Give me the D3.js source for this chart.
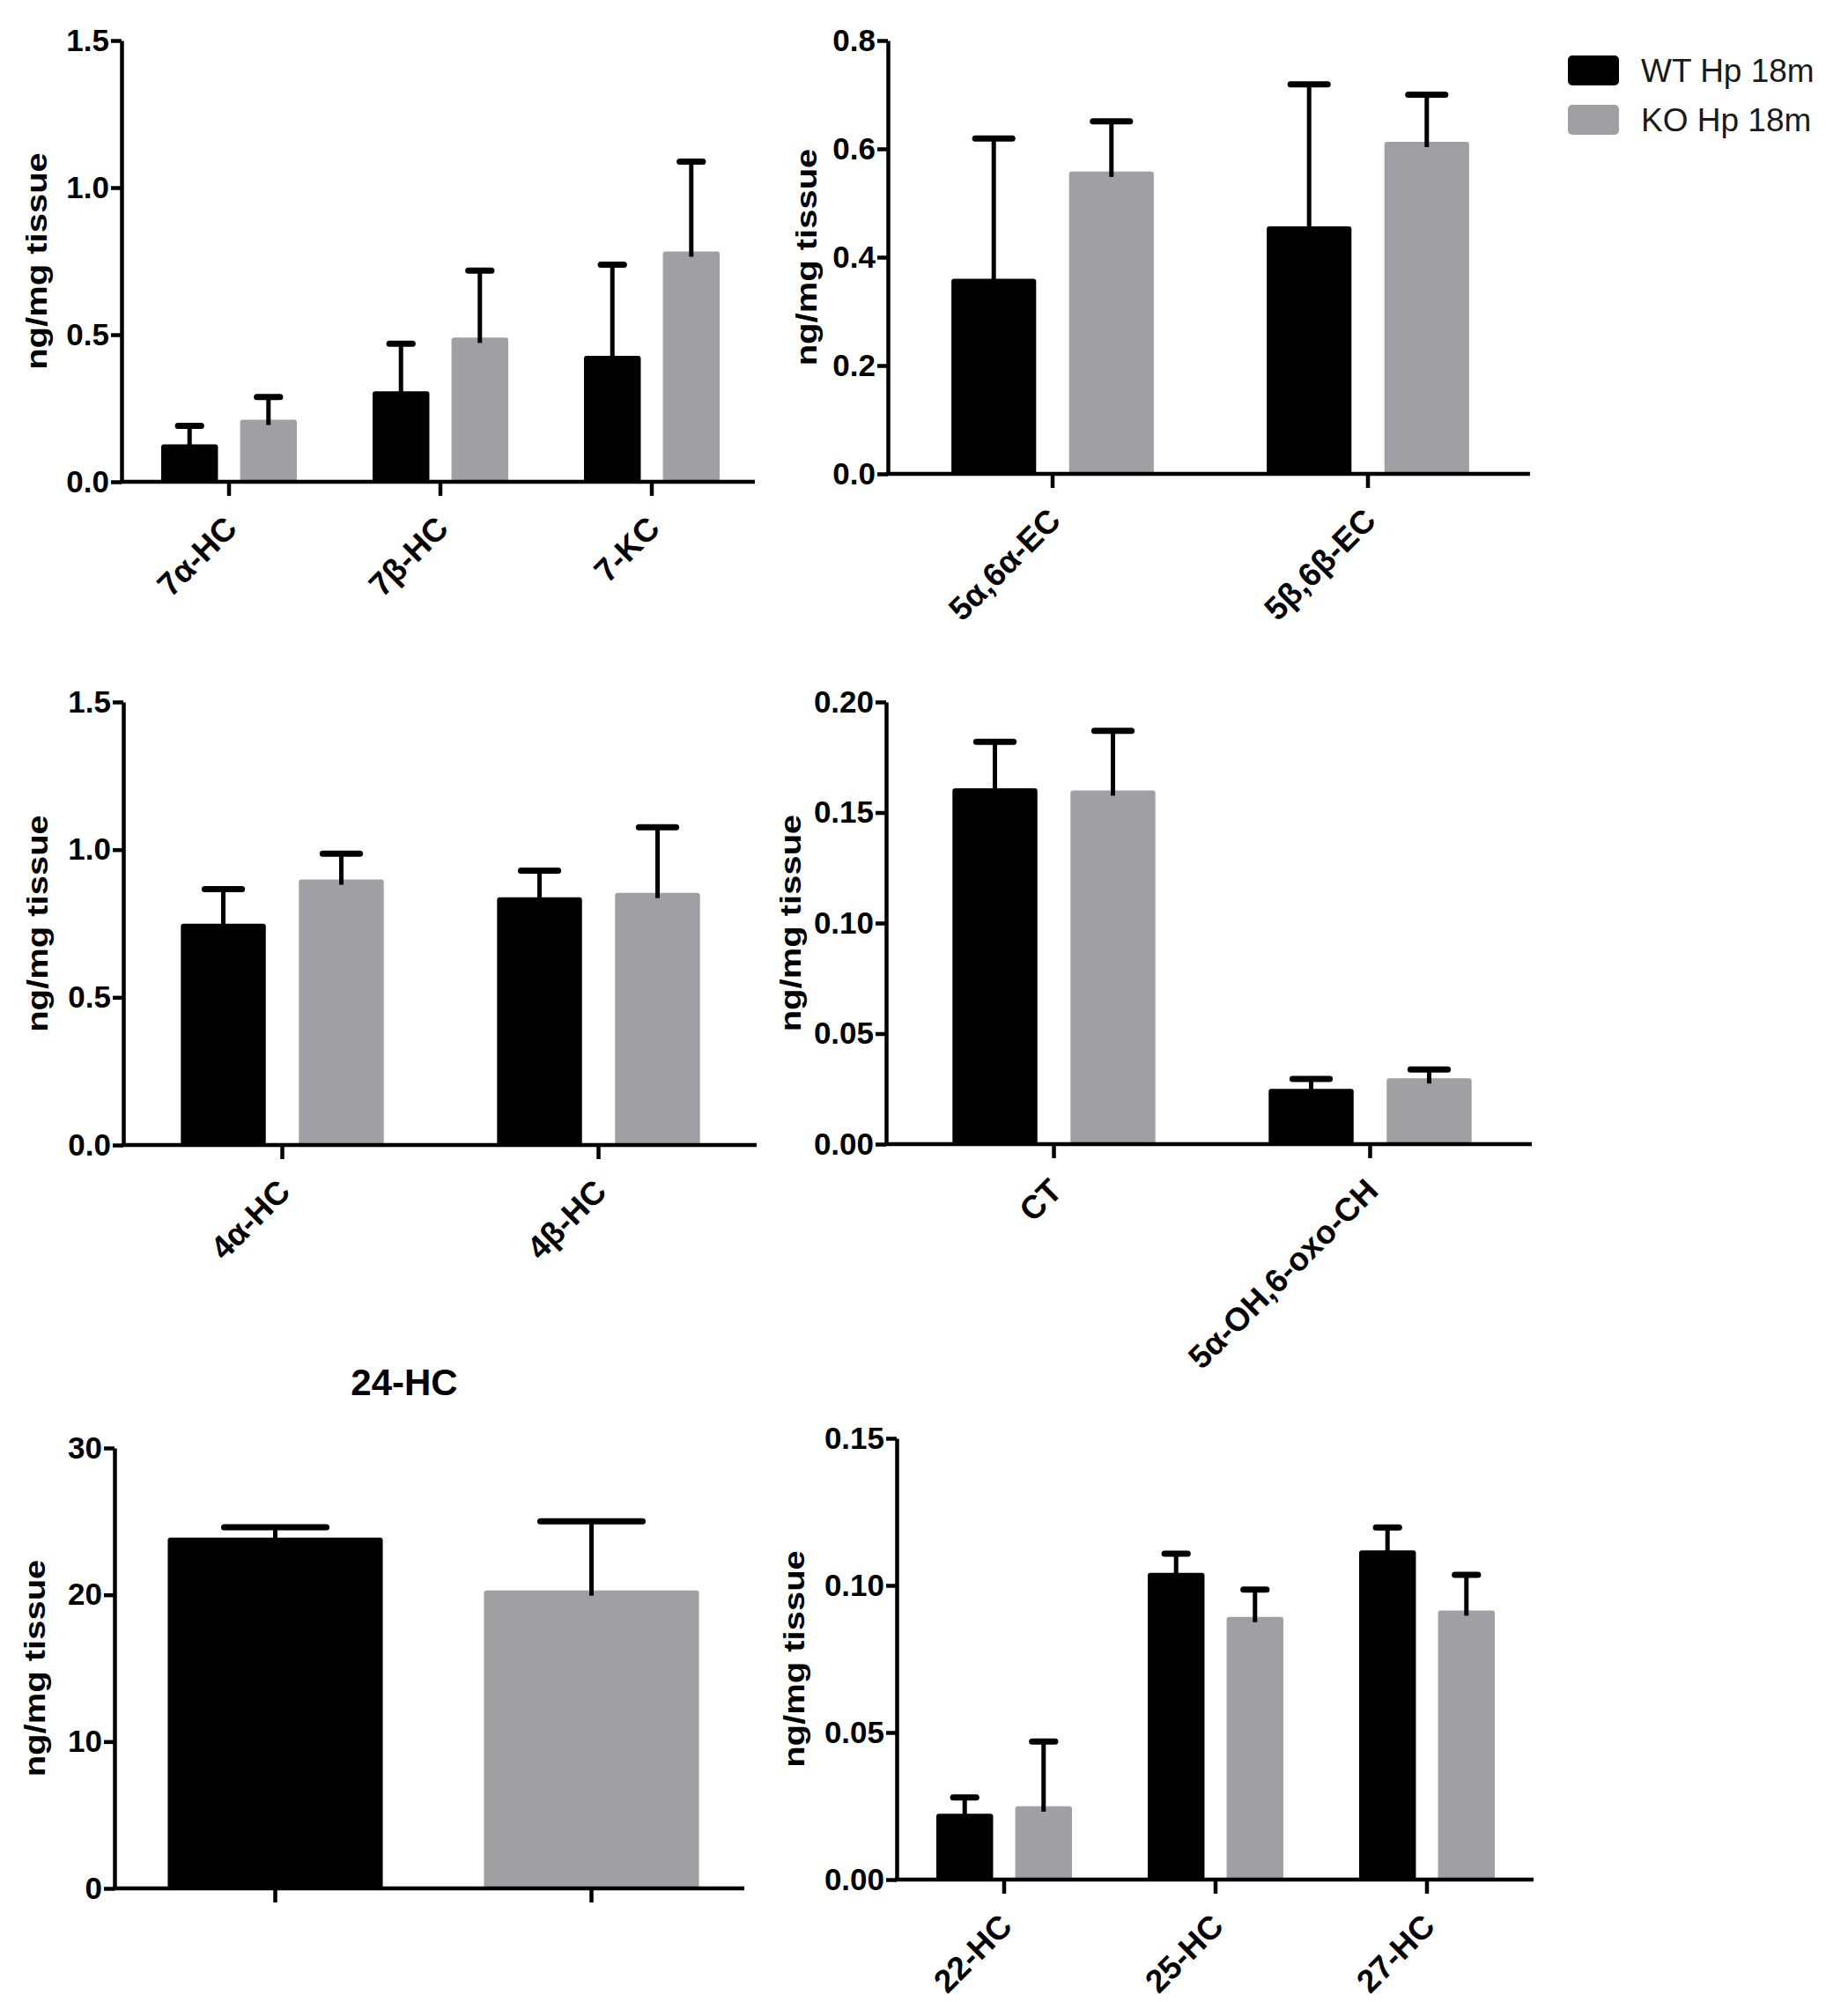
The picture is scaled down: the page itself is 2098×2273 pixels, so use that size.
<!DOCTYPE html>
<html>
<head>
<meta charset="utf-8">
<script src="https://cdn.jsdelivr.net/npm/d3@7.9.0/dist/d3.min.js"></script>
<style>
  html, body { margin: 0; padding: 0; background: #fff; }
  svg { display: block; font-family: "Liberation Sans", Arial, sans-serif; }
</style>
</head>
<body>
<div id="chart"></div>
<script>
// groups shown in the legend
const groups = ['WT Hp 18m', 'KO Hp 18m'];

// 7-oxysterols
const sevenCats = ['7α-HC', '7β-HC', '7-KC'];
const sevenWT = [0.127, 0.308, 0.428];
const sevenWTsem = [0.063, 0.161, 0.310];
const sevenKO = [0.211, 0.490, 0.783];
const sevenKOsem = [0.077, 0.228, 0.305];

// epoxycholesterols
const epoxyCats = ['5α,6α-EC', '5β,6β-EC'];
const epoxyWT = [0.360, 0.457];
const epoxyWTsem = [0.259, 0.262];
const epoxyKO = [0.558, 0.613];
const epoxyKOsem = [0.093, 0.087];

// 4-hydroxycholesterols
const fourCats = ['4α-HC', '4β-HC'];
const fourWT = [0.749, 0.839];
const fourWTsem = [0.117, 0.090];
const fourKO = [0.899, 0.854];
const fourKOsem = [0.087, 0.222];

// triol / oxo
const triolCats = ['CT', '5α-OH,6-oxo-CH'];
const triolWT = [0.161, 0.0250];
const triolWTsem = [0.021, 0.0045];
const triolKO = [0.160, 0.0298];
const triolKOsem = [0.027, 0.0040];

// 24-HC (one value per group)
const hc24WT = 23.9;
const hc24WTsem = 0.7;
const hc24KO = 20.3;
const hc24KOsem = 4.7;

// side-chain hydroxycholesterols
const sideCats = ['22-HC', '25-HC', '27-HC'];
const sideWT = [0.0224, 0.1043, 0.1119];
const sideWTsem = [0.0055, 0.0065, 0.0078];
const sideKO = [0.0249, 0.0893, 0.0915];
const sideKOsem = [0.0220, 0.0093, 0.0121];

const colors = ['#000000', '#a0a0a4'];
const W = 2098, H = 2273;

const svg = d3.select('#chart').append('svg')
  .attr('width', W).attr('height', H)
  .attr('viewBox', `0 0 ${W} ${H}`);

function makeRows(cats, wt, wtSem, ko, koSem) {
  return cats.map((c, i) => ({
    cat: c,
    bars: [
      { g: groups[0], v: wt[i], e: wtSem[i] },
      { g: groups[1], v: ko[i], e: koSem[i] },
    ],
  }));
}

function drawPanel(p) {
  const g = svg.append('g');
  const y = d3.scaleLinear().domain([0, p.yMax]).range([p.yBottom, p.yTop]);
  const x = d3.scaleBand().domain(p.rows.map(d => d.cat)).range(p.band);

  // bars
  let barList;
  if (p.single) {
    const bw = x.bandwidth() * 0.68;
    barList = p.rows.map((r, i) => ({
      x: x(r.cat) + (x.bandwidth() - bw) / 2, w: bw,
      v: r.bars[0].v, e: r.bars[0].e, color: colors[i],
    }));
  } else {
    const inner = d3.scaleBand().domain(groups).range([0, x.bandwidth()])
      .paddingInner(0.28).paddingOuter(0.48);
    barList = p.rows.flatMap(r => r.bars.map((b, i) => ({
      x: x(r.cat) + inner(b.g), w: inner.bandwidth(),
      v: b.v, e: b.e, color: colors[i],
    })));
  }

  g.append('g').selectAll('rect')
    .data(barList)
    .join('rect')
    .attr('x', d => d.x)
    .attr('y', d => y(d.v))
    .attr('width', d => d.w)
    .attr('height', d => y(0) - y(d.v))
    .attr('rx', 3)
    .attr('fill', d => d.color);

  // error bars (upper only)
  const err = g.append('g').attr('stroke', '#000');
  err.selectAll('line.stem')
    .data(barList)
    .join('line')
    .attr('class', 'stem')
    .attr('x1', d => d.x + d.w / 2)
    .attr('x2', d => d.x + d.w / 2)
    .attr('y1', d => y(d.v) + 6)
    .attr('y2', d => y(d.v + d.e))
    .attr('stroke-width', 5);
  err.selectAll('line.cap')
    .data(barList)
    .join('line')
    .attr('class', 'cap')
    .attr('x1', d => d.x + d.w / 4 + 3)
    .attr('x2', d => d.x + d.w * 3 / 4 - 3)
    .attr('y1', d => y(d.v + d.e))
    .attr('y2', d => y(d.v + d.e))
    .attr('stroke-width', 7)
    .attr('stroke-linecap', 'round');

  // y axis
  const ya = g.append('g')
    .attr('transform', `translate(${p.x0},0)`)
    .call(d3.axisLeft(y).tickValues(p.yTicks).tickFormat(d3.format(p.fmt))
      .tickSize(12).tickPadding(2).tickSizeOuter(0));
  ya.selectAll('text')
    .attr('font-size', 35).attr('font-weight', 'bold')
    .attr('font-family', '"Liberation Sans", Arial, sans-serif').attr('fill', '#000');
  ya.selectAll('line, path').attr('stroke-width', 4.5).attr('stroke', '#000');

  // x axis
  const xa = g.append('g')
    .attr('transform', `translate(0,${p.yBottom})`)
    .call(d3.axisBottom(x).tickSize(16).tickSizeOuter(0)
      .tickFormat(p.single ? '' : d => d));
  xa.select('.domain').attr('d', `M${p.x0 - 2},0H${p.x1}`);
  xa.selectAll('line, path').attr('stroke-width', 4.5).attr('stroke', '#000');
  xa.selectAll('text')
    .attr('x', 0).attr('y', 0).attr('dy', '0.35em')
    .attr('text-anchor', 'end')
    .attr('transform', 'translate(2,46) rotate(-45)')
    .attr('font-size', 37).attr('font-weight', 'bold')
    .attr('font-family', '"Liberation Sans", Arial, sans-serif').attr('fill', '#000');

  // y title, glyphs slightly narrowed like the original export
  g.append('text')
    .attr('transform', `translate(${p.titleX},${(p.yTop + p.yBottom) / 2}) rotate(-90) scale(1,0.82)`)
    .attr('text-anchor', 'middle')
    .attr('dy', '0.35em')
    .attr('font-size', 40).attr('font-weight', 'bold')
    .text('ng/mg tissue');

  if (p.title) {
    g.append('text')
      .attr('x', p.title.x).attr('y', p.title.y)
      .attr('text-anchor', 'middle')
      .attr('font-size', 42).attr('font-weight', 'bold')
      .text(p.title.text);
  }
}

drawPanel({
  rows: makeRows(sevenCats, sevenWT, sevenWTsem, sevenKO, sevenKOsem),
  yMax: 1.5, yTicks: [0, 0.5, 1.0, 1.5], fmt: '.1f',
  x0: 138, x1: 857, band: [140, 860], yTop: 46, yBottom: 547, titleX: 42,
});

drawPanel({
  rows: makeRows(epoxyCats, epoxyWT, epoxyWTsem, epoxyKO, epoxyKOsem),
  yMax: 0.8, yTicks: [0, 0.2, 0.4, 0.6, 0.8], fmt: '.1f',
  x0: 1008, x1: 1737, band: [1016, 1732], yTop: 46, yBottom: 538, titleX: 916,
});

drawPanel({
  rows: makeRows(fourCats, fourWT, fourWTsem, fourKO, fourKOsem),
  yMax: 1.5, yTicks: [0, 0.5, 1.0, 1.5], fmt: '.1f',
  x0: 140, x1: 859, band: [141, 859], yTop: 797, yBottom: 1300, titleX: 43,
});

drawPanel({
  rows: makeRows(triolCats, triolWT, triolWTsem, triolKO, triolKOsem),
  yMax: 0.2, yTicks: [0, 0.05, 0.10, 0.15, 0.20], fmt: '.2f',
  x0: 1006, x1: 1739, band: [1017, 1735], yTop: 797, yBottom: 1299, titleX: 898,
});

drawPanel({
  single: true,
  rows: groups.map((gname, i) => ({
    cat: gname,
    bars: [{ g: gname, v: [hc24WT, hc24KO][i], e: [hc24WTsem, hc24KOsem][i] }],
  })),
  yMax: 30, yTicks: [0, 10, 20, 30], fmt: 'd',
  x0: 130, x1: 845, band: [133, 851], yTop: 1644, yBottom: 2144, titleX: 40,
  title: { text: '24-HC', x: 459, y: 1584 },
});

drawPanel({
  rows: makeRows(sideCats, sideWT, sideWTsem, sideKO, sideKOsem),
  yMax: 0.15, yTicks: [0, 0.05, 0.10, 0.15], fmt: '.2f',
  x0: 1018, x1: 1741, band: [1020, 1740], yTop: 1633, yBottom: 2134, titleX: 902,
});

// legend
const legend = svg.append('g').attr('transform', 'translate(1781,64)');
const item = legend.selectAll('g')
  .data(groups)
  .join('g')
  .attr('transform', (d, i) => `translate(0,${i * 56})`);
item.append('rect')
  .attr('width', 56).attr('height', 32).attr('rx', 4)
  .attr('fill', (d, i) => colors[i])
  .attr('stroke', (d, i) => i === 0 ? '#000' : '#a0a0a4')
  .attr('stroke-width', 2);
item.append('text')
  .attr('x', 82).attr('y', 16).attr('dy', '0.36em')
  .attr('font-size', 37).attr('fill', '#1a1a1a')
  .text(d => d);
</script>
</body>
</html>
